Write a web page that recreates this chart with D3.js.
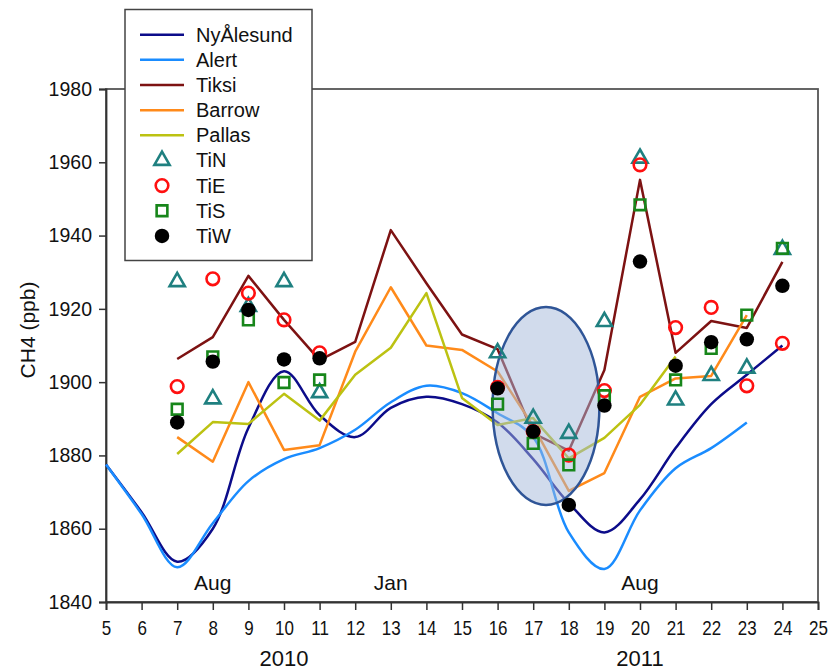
<!DOCTYPE html>
<html>
<head>
<meta charset="utf-8">
<script src="https://cdn.jsdelivr.net/npm/d3@7"></script>
<style>
  body { margin: 0; background: #fff; }
  text { font-family: "Liberation Sans", Arial, sans-serif; fill: #111; }
</style>
</head>
<body>
<script>
// months since Jan 2010 style index on the x axis
var xTicks = d3.range(5, 26);
var yTicks = [1840, 1860, 1880, 1900, 1920, 1940, 1960, 1980];

// smooth station curves (monthly)
var nyMonths = d3.range(5, 25);
var nyAlesund = [1877.5, 1864.5, 1851, 1860, 1887.5, 1903, 1891, 1885, 1893, 1896,
                 1894, 1889, 1879, 1867, 1859, 1868, 1882, 1894, 1902, 1910];
var alertMonths = d3.range(5, 24);
var alert = [1877.5, 1864, 1849.5, 1861.5, 1873, 1879, 1882, 1887, 1894.5, 1899,
             1897, 1891.5, 1885, 1859, 1849, 1865, 1876.5, 1882, 1889];

// straight station lines
var tiksiMonths = d3.range(7, 25);
var tiksi = [1906.3, 1912.3, 1929, 1917, 1906, 1911, 1941.5, 1927, 1913, 1909,
             1886, 1881.3, 1903.3, 1955.2, 1908, 1916.7, 1914.8, 1932.8];
var barrowMonths = d3.range(7, 24);
var barrow = [1885, 1878.3, 1900, 1881.5, 1882.8, 1908.3, 1925.9, 1910, 1908.8,
              1902.9, 1888, 1870.3, 1875.2, 1896, 1901, 1901.7, 1918.3];
var pallasMonths = d3.range(7, 22);
var pallas = [1880.4, 1889.1, 1888.6, 1896.8, 1889.5, 1902, 1909.4, 1924.3, 1895.7,
              1888.3, 1890.2, 1879.2, 1884.8, 1893.8, 1907];

// model points
var markMonths = [7, 8, 9, 10, 11, 16, 17, 18, 19, 20, 21, 22, 23, 24];
var tiN = [1927.4, 1895.4, 1920.6, 1927.4, 1897.1, 1908, 1890.1, 1886, 1916.5, 1961.1, 1895.1, 1901.8, 1903.8, 1936.2];
var tiE = [1898.8, 1928.2, 1924.3, 1917, 1908, 1898.6, 1886.5, 1880.1, 1897.7, 1959.3, 1914.9, 1920.4, 1899, 1910.6];
var tiS = [1892.6, 1906.9, 1917, 1899.9, 1900.6, 1894, 1883.3, 1877.4, 1896.3, 1948.4, 1900.6, 1909.2, 1918.3, 1936.5];
var tiW = [1889, 1905.6, 1919.7, 1906.2, 1906.5, 1898.3, 1886.5, 1866.5, 1893.6, 1932.9, 1904.5, 1910.9, 1911.7, 1926.3];

var notes = [{ t: 8, label: "Aug" }, { t: 13, label: "Jan" }, { t: 20, label: "Aug" }];
var years = [{ t: 10, label: "2010" }, { t: 20, label: "2011" }];

var W = 833, H = 671;
var x = d3.scaleLinear().domain([5, 25]).range([106, 818]);
var y = d3.scaleLinear().domain([1840, 1980]).range([602, 89]);

var svg = d3.select("body").append("svg")
  .attr("width", W)
  .attr("height", H);

// frame
svg.append("rect")
  .attr("x", x(5)).attr("y", y(1980))
  .attr("width", x(25) - x(5)).attr("height", y(1840) - y(1980))
  .attr("fill", "none").attr("stroke", "#555").attr("stroke-width", 1.8);

// axes
var yAxis = svg.append("g")
  .attr("transform", "translate(" + x(5) + ",0)")
  .call(d3.axisLeft(y).tickValues(yTicks).tickSize(7).tickPadding(7).tickFormat(d3.format("d")));
yAxis.selectAll("text").style("font-size", "19.5px");

var xAxis = svg.append("g")
  .attr("transform", "translate(0," + y(1840) + ")")
  .call(d3.axisBottom(x).tickValues(xTicks).tickSize(8).tickPadding(11).tickFormat(d3.format("d")));
xAxis.selectAll("text").style("font-size", "20px").attr("transform", "scale(0.85,1)");

svg.selectAll(".domain").attr("stroke", "#333").attr("stroke-width", 1.8);
svg.selectAll(".tick line").attr("stroke", "#333").attr("stroke-width", 1.5);

svg.append("text")
  .attr("transform", "translate(35,330) rotate(-90)")
  .attr("text-anchor", "middle")
  .style("font-size", "21px")
  .text("CH4 (ppb)");

svg.selectAll(".year").data(years).enter().append("text")
  .attr("x", function (d) { return x(d.t); })
  .attr("y", 666)
  .attr("text-anchor", "middle")
  .style("font-size", "22px")
  .text(function (d) { return d.label; });

svg.selectAll(".note").data(notes).enter().append("text")
  .attr("x", function (d) { return x(d.t); })
  .attr("y", 590)
  .attr("text-anchor", "middle")
  .style("font-size", "21px")
  .text(function (d) { return d.label; });

// lines
function pairs(ts, vs) { return ts.map(function (t, i) { return [t, vs[i]]; }); }

var smooth = d3.line().x(function (d) { return x(d[0]); }).y(function (d) { return y(d[1]); })
  .curve(d3.curveCatmullRom.alpha(0.5));
var straight = d3.line().x(function (d) { return x(d[0]); }).y(function (d) { return y(d[1]); });

var lineSeries = [
  { name: "NyÅlesund", color: "#0c0c8a", pts: pairs(nyMonths, nyAlesund), gen: smooth },
  { name: "Alert", color: "#1a8cff", pts: pairs(alertMonths, alert), gen: smooth },
  { name: "Tiksi", color: "#7d1212", pts: pairs(tiksiMonths, tiksi), gen: straight },
  { name: "Barrow", color: "#ff8a1a", pts: pairs(barrowMonths, barrow), gen: straight },
  { name: "Pallas", color: "#bcc212", pts: pairs(pallasMonths, pallas), gen: straight }
];

svg.selectAll(".series").data(lineSeries).enter().append("path")
  .attr("d", function (d) { return d.gen(d.pts); })
  .attr("fill", "none")
  .attr("stroke", function (d) { return d.color; })
  .attr("stroke-width", 2.5)
  .attr("stroke-linejoin", "round");

// highlight ellipse
svg.append("ellipse")
  .attr("cx", x(17.36)).attr("cy", y(1893.5))
  .attr("rx", x(18.86) - x(17.36)).attr("ry", y(1866.5) - y(1893.5))
  .attr("fill", "#a3b8d9").attr("fill-opacity", 0.5)
  .attr("stroke", "#2f5597").attr("stroke-width", 2.5);

// markers
var markSeries = [
  { name: "TiN", color: "#1f8080", type: d3.symbolTriangle, size: 100, fill: "none", vals: tiN },
  { name: "TiE", color: "#ff1010", type: d3.symbolCircle, size: 125, fill: "none", vals: tiE },
  { name: "TiS", color: "#17861a", type: d3.symbolSquare, size: 115, fill: "none", vals: tiS },
  { name: "TiW", color: "#000", type: d3.symbolCircle, size: 165, fill: "#000", vals: tiW }
];

markSeries.forEach(function (s) {
  svg.selectAll(null).data(pairs(markMonths, s.vals)).enter().append("path")
    .attr("transform", function (d) { return "translate(" + x(d[0]) + "," + y(d[1]) + ")"; })
    .attr("d", d3.symbol().type(s.type).size(s.size))
    .attr("fill", s.fill)
    .attr("stroke", s.fill === "none" ? s.color : "none")
    .attr("stroke-width", 2.6);
});

// legend
var legend = svg.append("g");
legend.append("rect")
  .attr("x", 125).attr("y", 9.5).attr("width", 187).attr("height", 251)
  .attr("fill", "#fff").attr("stroke", "#444").attr("stroke-width", 1.5);

var legendItems = lineSeries.concat(markSeries);
var rows = legend.selectAll(".row").data(legendItems).enter().append("g")
  .attr("transform", function (d, i) { return "translate(0," + (34.7 + i * 25.15) + ")"; });

rows.filter(function (d) { return d.pts; }).append("line")
  .attr("x1", 140).attr("x2", 184)
  .attr("stroke", function (d) { return d.color; })
  .attr("stroke-width", 2.5);

rows.filter(function (d) { return d.vals; }).append("path")
  .attr("transform", "translate(162,0)")
  .attr("d", function (d) { return d3.symbol().type(d.type).size(d.size)(); })
  .attr("fill", function (d) { return d.fill; })
  .attr("stroke", function (d) { return d.fill === "none" ? d.color : "none"; })
  .attr("stroke-width", 2.6);

rows.append("text")
  .attr("x", 196).attr("y", 7)
  .style("font-size", "20px")
  .text(function (d) { return d.name; });
</script>
</body>
</html>
